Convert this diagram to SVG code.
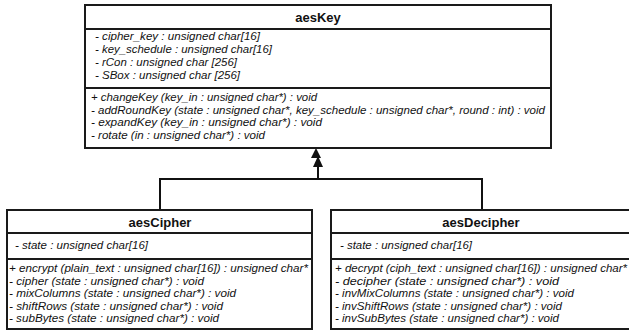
<svg xmlns="http://www.w3.org/2000/svg" width="629" height="330" viewBox="0 0 629 330">
<style>
.box{fill:#fff;stroke:#1a1a1a;stroke-width:2}
.div{stroke:#1a1a1a;stroke-width:2}
.t{font-family:"Liberation Sans",Arial,sans-serif;font-size:13px;font-weight:bold;fill:#111;text-anchor:middle}
.m{font-family:"Liberation Sans",Arial,sans-serif;font-size:11.5px;font-style:italic;fill:#111}
.c{fill:none;stroke:#111;stroke-width:2}
</style>
<rect width="629" height="330" fill="#fff"/>
<g id="connectors">
<polyline class="c" points="160,210 160,179 482,179 482,210"/>
<line class="c" x1="318" y1="179" x2="318" y2="165"/>
<polygon points="318,156 313,167 323,167" fill="#111"/>
<polygon points="316,148 311,158 321,158" fill="#111"/>
</g>
<g id="aesKey">
<rect class="box" x="85" y="5" width="466" height="143"/>
<line class="div" x1="85" y1="29" x2="551" y2="29"/>
<line class="div" x1="85" y1="88" x2="551" y2="88"/>
<text class="t" x="318" y="22">aesKey</text>
<text class="m" x="95" y="40" textLength="165" lengthAdjust="spacingAndGlyphs">- cipher_key : unsigned char[16]</text>
<text class="m" x="95" y="53" textLength="177" lengthAdjust="spacingAndGlyphs">- key_schedule : unsigned char[16]</text>
<text class="m" x="95" y="66" textLength="142" lengthAdjust="spacingAndGlyphs">- rCon : unsigned char [256]</text>
<text class="m" x="95" y="79" textLength="145" lengthAdjust="spacingAndGlyphs">- SBox : unsigned char [256]</text>
<text class="m" x="91" y="101" textLength="226" lengthAdjust="spacingAndGlyphs">+ changeKey (key_in : unsigned char*) : void</text>
<text class="m" x="91" y="114" textLength="454" lengthAdjust="spacingAndGlyphs">- addRoundKey (state : unsigned char*, key_schedule : unsigned char*, round : int) : void</text>
<text class="m" x="91" y="126" textLength="231" lengthAdjust="spacingAndGlyphs">- expandKey (key_in : unsigned char*) : void</text>
<text class="m" x="91" y="139" textLength="174" lengthAdjust="spacingAndGlyphs">- rotate (in : unsigned char*) : void</text>
</g>
<g id="aesCipher">
<rect class="box" x="7" y="210" width="305" height="119"/>
<line class="div" x1="7" y1="233" x2="312" y2="233"/>
<line class="div" x1="7" y1="259" x2="312" y2="259"/>
<text class="t" x="160" y="227">aesCipher</text>
<text class="m" x="15" y="249" textLength="133" lengthAdjust="spacingAndGlyphs">- state : unsigned char[16]</text>
<text class="m" x="9" y="272" textLength="299" lengthAdjust="spacingAndGlyphs">+ encrypt (plain_text : unsigned char[16]) : unsigned char*</text>
<text class="m" x="9" y="284.5" textLength="195" lengthAdjust="spacingAndGlyphs">- cipher (state : unsigned char*) : void</text>
<text class="m" x="9" y="297" textLength="227" lengthAdjust="spacingAndGlyphs">- mixColumns (state : unsigned char*) : void</text>
<text class="m" x="9" y="309.5" textLength="214" lengthAdjust="spacingAndGlyphs">- shiftRows (state : unsigned char*) : void</text>
<text class="m" x="9" y="322" textLength="210" lengthAdjust="spacingAndGlyphs">- subBytes (state : unsigned char*) : void</text>
</g>
<g id="aesDecipher">
<rect class="box" x="331" y="210" width="305" height="119"/>
<line class="div" x1="331" y1="233" x2="636" y2="233"/>
<line class="div" x1="331" y1="259" x2="636" y2="259"/>
<text class="t" x="481" y="227">aesDecipher</text>
<text class="m" x="340" y="249" textLength="132" lengthAdjust="spacingAndGlyphs">- state : unsigned char[16]</text>
<text class="m" x="335" y="272" textLength="292" lengthAdjust="spacingAndGlyphs">+ decrypt (ciph_text : unsigned char[16]) : unsigned char*</text>
<text class="m" x="335" y="284.5" textLength="224" lengthAdjust="spacingAndGlyphs">- decipher (state : unsigned char*) : void</text>
<text class="m" x="335" y="297" textLength="239" lengthAdjust="spacingAndGlyphs">- invMixColumns (state : unsigned char*) : void</text>
<text class="m" x="335" y="309.5" textLength="227" lengthAdjust="spacingAndGlyphs">- invShiftRows (state : unsigned char*) : void</text>
<text class="m" x="335" y="322" textLength="224" lengthAdjust="spacingAndGlyphs">- invSubBytes (state : unsigned char*) : void</text>
</g>
</svg>
